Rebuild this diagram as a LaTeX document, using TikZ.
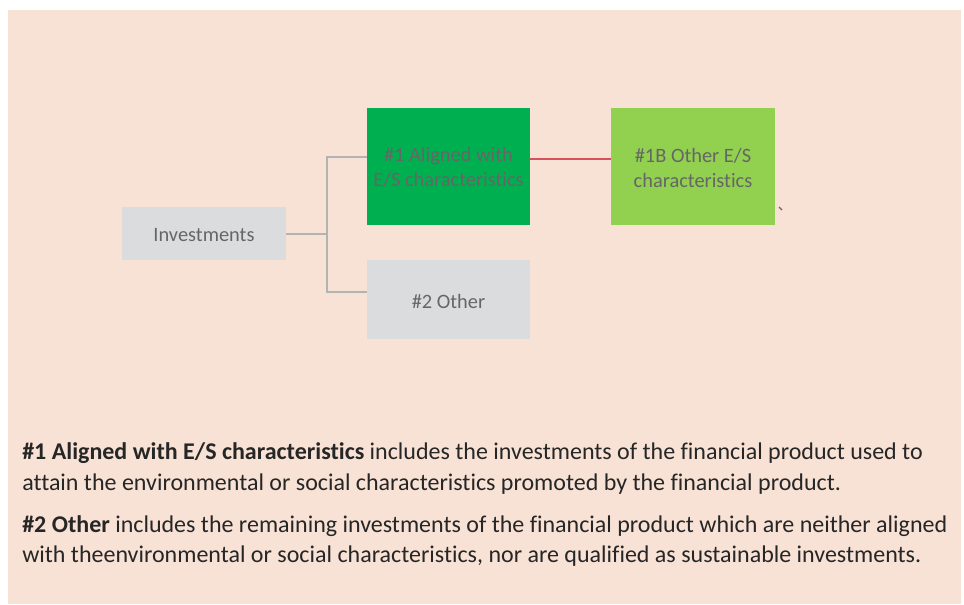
\documentclass[tikz,border=0pt]{standalone}
\usepackage{fontspec}
\setmainfont{Carlito}[Ligatures={NoCommon}]
\definecolor{bgpeach}{HTML}{F8E2D5}
\definecolor{boxgray}{HTML}{DBDCDE}
\definecolor{darkgreen}{HTML}{00B050}
\definecolor{lightgreen}{HTML}{92D050}
\definecolor{labelgray}{HTML}{666666}
\definecolor{linegray}{HTML}{B3B3B3}
\definecolor{linkred}{HTML}{D9505C}
\definecolor{bodytext}{HTML}{262626}
\tikzset{
  catbox/.style={rectangle, inner sep=0pt, align=center, text=labelgray,
    font=\fontsize{15.3}{18.75}\selectfont},
  catlabel/.style={inner sep=0pt, align=center, text=labelgray, yshift=-1.2pt,
    font=\fontsize{15.3}{18.75}\selectfont},
  tree/.style={draw=linegray, line width=1.5pt},
  redlink/.style={draw=linkred, line width=1.4pt},
  bodyline/.style={anchor=base west, inner sep=0pt, text=bodytext,
    font=\fontsize{18}{22}\selectfont}
}
\begin{document}
\begin{tikzpicture}[x=0.75pt,y=-0.75pt]
\useasboundingbox (0,0) rectangle (964,604);
\fill[bgpeach] (8,10) rectangle (961,604);

\node[catbox, fill=boxgray, minimum width=164*0.75pt, minimum height=53*0.75pt,
  label={[catlabel]center:Investments}] (inv) at (204,233.5) {};
\node[catbox, fill=darkgreen, minimum width=163*0.75pt, minimum height=117*0.75pt,
  label={[catlabel, yshift=0.4pt]center:\#1 Aligned with\\E/S characteristics}] (a1) at (448.5,166.5) {};
\node[catbox, fill=boxgray, minimum width=163*0.75pt, minimum height=79*0.75pt,
  label={[catlabel]center:\#2 Other}] (o2) at (448.5,299.5) {};
\node[catbox, fill=lightgreen, minimum width=164*0.75pt, minimum height=117*0.75pt,
  label={[catlabel, yshift=0.4pt]center:\#1B Other E/S\\characteristics}] (b1) at (693,166.5) {};

\coordinate (j) at (327,234);
\coordinate (a1in) at (367,157);
\coordinate (o2in) at (367,292);
\draw[tree] (inv.east |- j) -- (j);
\draw[tree] (j) |- (a1in);
\draw[tree] (j) |- (o2in);
\coordinate (redA) at (530,159);
\coordinate (redB) at (611,159);
\draw[redlink] (redA) -- (redB);

\draw[draw=black!60, line width=0.9pt] (779,207) -- (782,210);

\node[bodyline] (p1) at (22,459) {\textbf{\#1 Aligned with E/S characteristics} includes the investments of the financial product used to};
\node[bodyline] (p2) at (22,490) {attain the environmental or social characteristics promoted by the financial product.};
\node[bodyline] (p3) at (22,532) {\textbf{\#2 Other} includes the remaining investments of the financial product which are neither aligned};
\node[bodyline] (p4) at (22,562) {with theenvironmental or social characteristics, nor are qualified as sustainable investments.};
\end{tikzpicture}
\end{document}
